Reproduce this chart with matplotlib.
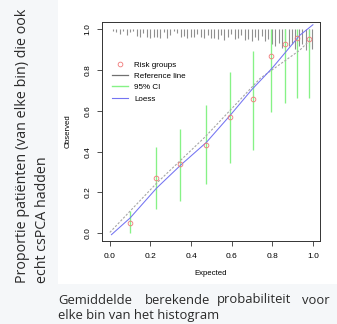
import matplotlib
matplotlib.use("Agg")
import matplotlib.pyplot as plt
from matplotlib.lines import Line2D
from matplotlib.patches import Rectangle
import numpy as np

# risk groups (mean expected vs observed) with 95% CI
expected = [0.098, 0.225, 0.348, 0.476, 0.590, 0.705, 0.795, 0.861, 0.923, 0.980]
observed = [0.050, 0.270, 0.338, 0.433, 0.571, 0.656, 0.868, 0.930, 0.957, 0.954]
ci_low = [0.000, 0.118, 0.159, 0.240, 0.343, 0.408, 0.596, 0.637, 0.664, 0.664]
ci_high = [0.111, 0.421, 0.510, 0.628, 0.791, 0.892, 1.000, 1.000, 1.000, 1.000]

# loess curve and reference line
loess_x = [0.008, 0.10, 0.23, 0.35, 0.475, 0.59, 0.70, 0.80, 0.935, 1.0]
loess_y = [-0.007, 0.075, 0.221, 0.335, 0.445, 0.575, 0.705, 0.81, 0.97, 1.022]
ref_x = [0.0, 0.23, 0.47, 0.74, 0.935, 0.985]
ref_y = [0.004, 0.245, 0.473, 0.759, 0.897, 0.946]

# spike histogram of predicted probabilities along the top (length in y units)
spike_len = [1.0, 1.5, 2.5, 1.0, 3.0, 1.5, 1.0, 3.5, 4.0, 2.0,
             4.0, 4.5, 4.0, 4.0, 4.5, 1.5, 4.5, 3.0, 1.0, 2.0,
             4.0, 3.5, 4.5, 4.0, 4.0, 2.5, 4.0, 4.5, 3.0, 4.5,
             4.5, 5.0, 3.0, 5.5, 4.0, 2.5, 5.0, 4.5, 3.0, 5.5,
             5.0, 6.0, 4.0, 5.5, 3.5, 6.0, 5.0, 7.0, 8.0, 6.5,
             9.0, 6.0, 8.0, 7.0, 9.5, 8.0, 7.0, 10.0, 8.5, 9.5]
spike_x = np.linspace(0.016, 0.997, len(spike_len))

ticks = [0.0, 0.2, 0.4, 0.6, 0.8, 1.0]
side_label = ["Proportie patiënten (van elke bin) die ook", "echt csPCA hadden"]
bottom_words = ["Gemiddelde", "berekende", "probabiliteit", "voor"]
bottom_line2 = "elke bin van het histogram"

W, H = 337, 324
fig = plt.figure(figsize=(W / 100, H / 100), dpi=100, facecolor="#f5f7f9")
# white area of the embedded R plot
fig.patches.append(Rectangle((58 / W, 1 - 284 / H), 1 - 58 / W, 284 / H,
                             transform=fig.transFigure, facecolor="white",
                             edgecolor="none", zorder=-10))

r_font = "Liberation Sans"
ax = fig.add_axes([101.7 / W, 1 - 241 / H, (320 - 101.7) / W, (241 - 21.7) / H])
ax.set_zorder(5)
ax.set_facecolor("white")
ax.set_xlim(-0.04, 1.035)
ax.set_ylim(-0.038, 1.037)

# spikes
ax.vlines(spike_x, 1.0 - np.array(spike_len) / 100, 1.0, color="#8f8f8f", lw=0.8)

# CI bars
ax.vlines(expected, ci_low, ci_high, color="#86f286", lw=0.95)
ax.plot(ref_x, ref_y, color="#a6a6a6", lw=0.8, ls=(0, (2, 1.5)))
ax.plot(loess_x, loess_y, color="#7474f2", lw=0.75)
ax.plot(expected, observed, "o", mfc="none", mec="#f07878", ms=3.4, mew=0.6)

ax.set_xticks(ticks)
ax.set_yticks(ticks)
ax.set_xticklabels([f"{t:.1f}" for t in ticks], fontfamily=r_font, fontsize=6)
ax.set_yticklabels([f"{t:.1f}" for t in ticks], fontfamily=r_font, fontsize=6,
                   rotation=90, va="center")
ax.tick_params(axis="x", length=3.3, width=0.6, pad=5.2, color="#333333")
ax.tick_params(axis="y", length=3.3, width=0.6, pad=4, color="#333333")
for s in ax.spines.values():
    s.set_linewidth(0.7)
    s.set_color("#333333")

ax.set_xlabel("Expected", fontfamily=r_font, fontsize=5.6, labelpad=7)
ax.set_ylabel("Observed", fontfamily=r_font, fontsize=5.6, labelpad=9)

handles = [
    Line2D([], [], ls="none", marker="o", mfc="none", mec="#f07878", ms=3.4, mew=0.6),
    Line2D([], [], color="#707070", lw=0.9),
    Line2D([], [], color="#86f286", lw=1.0),
    Line2D([], [], color="#7474f2", lw=0.8),
]
ax.legend(handles, ["Risk groups", "Reference line", "95% CI", "Loess"],
          loc="upper left", bbox_to_anchor=((109 - 101.7) / (320 - 101.7), 0.835),
          frameon=False, prop={"family": r_font, "size": 5.8},
          handlelength=1.9, handletextpad=0.8, labelspacing=0.45, borderaxespad=0)

# slide text around the picture
slide_font = "Open Sans"
fig.text(23 / W, 1 - 283 / H, side_label[0], rotation=90, ha="center", va="bottom",
         fontsize=10.3, fontfamily=slide_font, color="#2a2a2a")
fig.text(42 / W, 1 - 283 / H, side_label[1], rotation=90, ha="center", va="bottom",
         fontsize=10.3, fontfamily=slide_font, color="#2a2a2a")
for word, x in zip(bottom_words, [58, 145, 217, 302]):
    fig.text(x / W, 1 - 300 / H, word, ha="left", va="center",
             fontsize=9.4, fontfamily=slide_font, color="#2a2a2a")
fig.text(58 / W, 1 - 316 / H, bottom_line2, ha="left", va="center",
         fontsize=9.4, fontfamily=slide_font, color="#2a2a2a")

fig.savefig("out.png", dpi=100, facecolor=fig.get_facecolor())
